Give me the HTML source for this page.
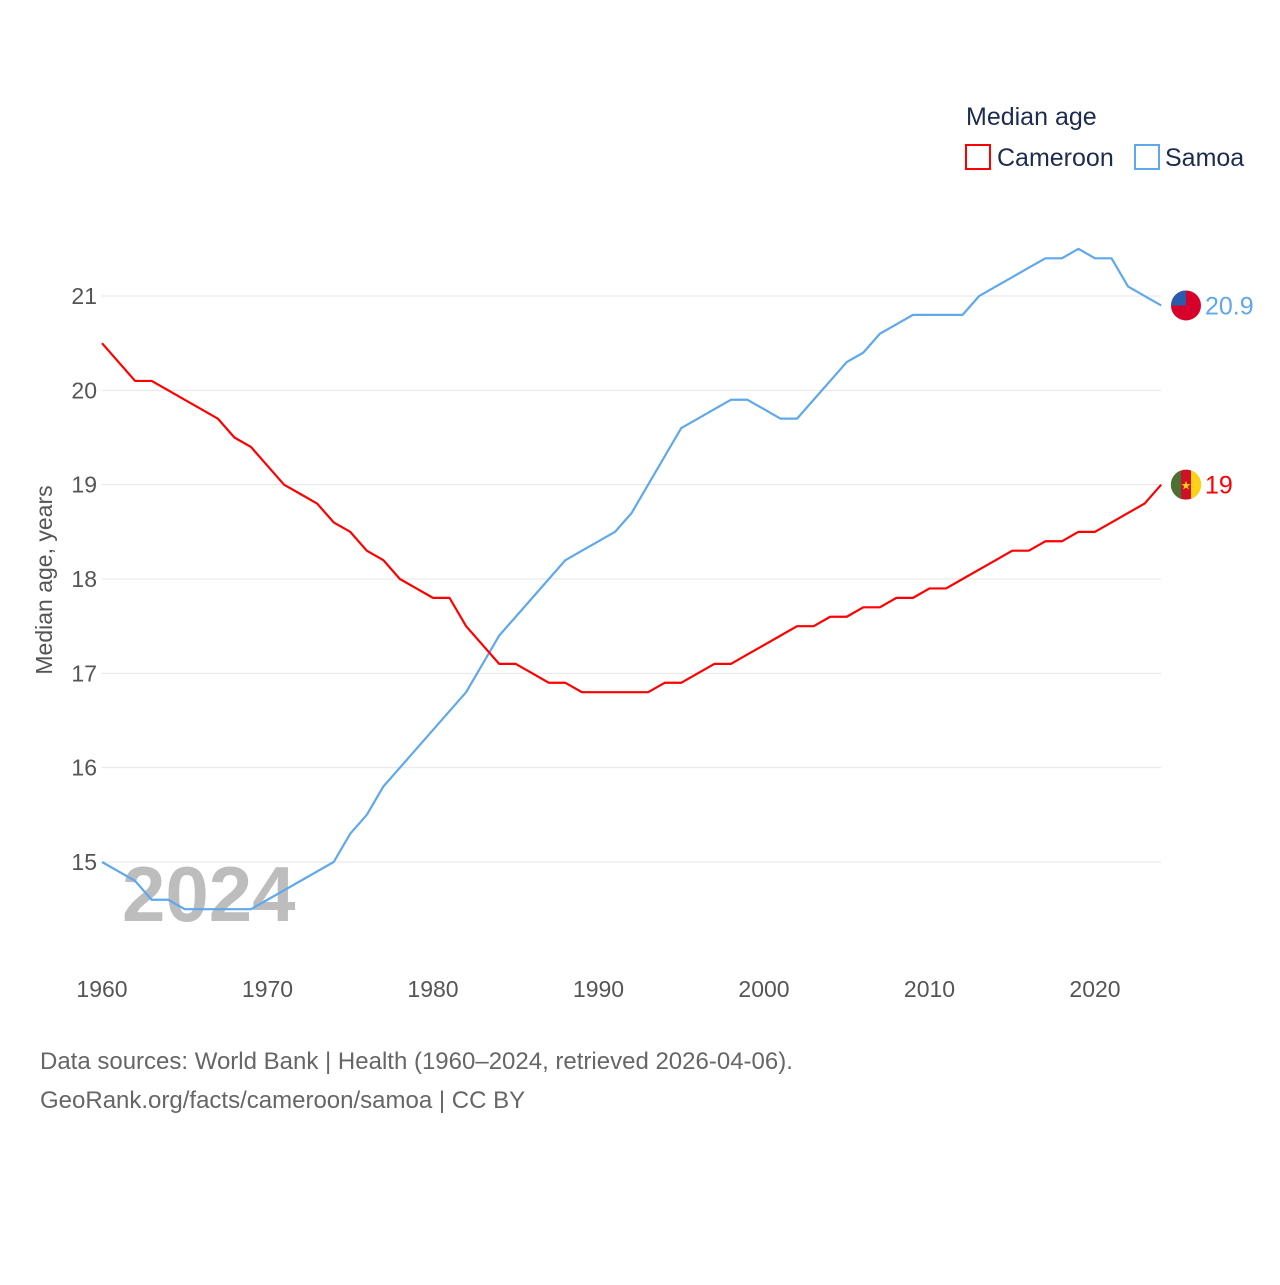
<!DOCTYPE html>
<html><head><meta charset="utf-8"><style>
body{margin:0;background:#fff;font-family:"Liberation Sans",sans-serif}
svg text{font-family:"Liberation Sans",sans-serif}
</style></head><body>
<svg id="c" width="1280" height="1280" xmlns="http://www.w3.org/2000/svg">
<text x="966" y="125" font-size="25" fill="#1d2b4f">Median age</text>
<g><rect x="966" y="145" width="24" height="24" fill="none" stroke="#f00" stroke-width="2"/><text x="997" y="166" font-size="25" fill="#1d2b4f">Cameroon</text></g>
<g><rect x="1135" y="145" width="24" height="24" fill="none" stroke="#5fa8ec" stroke-width="2"/><text x="1165" y="166" font-size="25" fill="#1d2b4f">Samoa</text></g>
<g id="grid"></g><g id="xt"></g>
<text x="122" y="921" font-size="78" font-weight="bold" fill="#bdbdbd">2024</text>
<g id="lines"></g>
<text transform="translate(52,580) rotate(-90)" text-anchor="middle" font-size="23" fill="#555">Median age, years</text>
<text x="40" y="1069" font-size="24" fill="#666">Data sources: World Bank | Health (1960–2024, retrieved 2026-04-06).</text>
<text x="40" y="1108" font-size="24" fill="#666">GeoRank.org/facts/cameroon/samoa | CC BY</text>
</svg>
<script>
const years=[];for(let y=1960;y<=2024;y++)years.push(y);
const cameroon=[20.5,20.3,20.1,20.1,20.0,19.9,19.8,19.7,19.5,19.4,19.2,19.0,18.9,18.8,18.6,18.5,18.3,18.2,18.0,17.9,17.8,17.8,17.5,17.3,17.1,17.1,17.0,16.9,16.9,16.8,16.8,16.8,16.8,16.8,16.9,16.9,17.0,17.1,17.1,17.2,17.3,17.4,17.5,17.5,17.6,17.6,17.7,17.7,17.8,17.8,17.9,17.9,18.0,18.1,18.2,18.3,18.3,18.4,18.4,18.5,18.5,18.6,18.7,18.8,19.0];
const samoa=[15.0,14.9,14.8,14.6,14.6,14.5,14.5,14.5,14.5,14.5,14.6,14.7,14.8,14.9,15.0,15.3,15.5,15.8,16.0,16.2,16.4,16.6,16.8,17.1,17.4,17.6,17.8,18.0,18.2,18.3,18.4,18.5,18.7,19.0,19.3,19.6,19.7,19.8,19.9,19.9,19.8,19.7,19.7,19.9,20.1,20.3,20.4,20.6,20.7,20.8,20.8,20.8,20.8,21.0,21.1,21.2,21.3,21.4,21.4,21.5,21.4,21.4,21.1,21.0,20.9];
const yTicks=[15,16,17,18,19,20,21];
const xTicks=[1960,1970,1980,1990,2000,2010,2020];
const X=v=>102+(v-1960)*16.55, Y=v=>862-(v-15)*94.33;
const NS='http://www.w3.org/2000/svg';
function mk(t,a,p,txt){const e=document.createElementNS(NS,t);for(const k in a)e.setAttribute(k,a[k]);if(txt!=null)e.textContent=txt;p.appendChild(e);return e;}
const g=document.getElementById('grid');
yTicks.forEach(v=>{
 const l=mk('line',{x1:102,x2:1161,y1:Y(v),y2:Y(v),stroke:'#e6e6e6'},g);
 
 
 const t=mk('text',{x:97,y:Y(v)+8,'text-anchor':'end','font-size':23,fill:'#555'},g,v);
 
 
});
const xt=document.getElementById('xt');
xTicks.forEach(v=>{
 const t=mk('text',{x:X(v),y:997,'text-anchor':'middle','font-size':23,fill:'#555'},xt,v);
 
 
});
const L=document.getElementById('lines');
function series(vals,col,name,label){
 const p=mk('polyline',{points:vals.map((v,i)=>X(years[i])+','+Y(v)).join(' '),fill:'none',stroke:col,'stroke-width':2.2,'stroke-linejoin':'round'},L);
 
 
 const last=vals[vals.length-1];
 const t=mk('text',{x:1205,y:Y(last)+9,'font-size':25,fill:col},L,label);
 
 
 return Y(last);
}
const ys=series(samoa,'#5fa8ec','samoa','20.9');
const yc=series(cameroon,'#f00','cameroon','19');
// flags
let f=mk('g',{},L);


mk('clipPath',{id:'cs'},f).appendChild(Object.assign(document.createElementNS(NS,'circle'),{}));
mk('circle',{cx:1186,cy:ys,r:15,fill:'#d6002b'},f);
mk('path',{d:`M1171 ${ys} A15 15 0 0 1 1186 ${ys-15} L1186 ${ys} Z`,fill:'#2a5cae'},f);
f=mk('g',{},L);


mk('circle',{cx:1186,cy:yc,r:15,fill:'#ce1126'},f);
mk('path',{d:`M1181 ${yc-14.2} A15 15 0 0 0 1181 ${yc+14.2} Z`,fill:'#4a7033'},f);
mk('path',{d:`M1191 ${yc-14.2} A15 15 0 0 1 1191 ${yc+14.2} Z`,fill:'#fcd116'},f);
mk('text',{x:1186,y:yc+5,'text-anchor':'middle','font-size':12,fill:'#fcd116'},f,'★');
</script>
</body></html>
